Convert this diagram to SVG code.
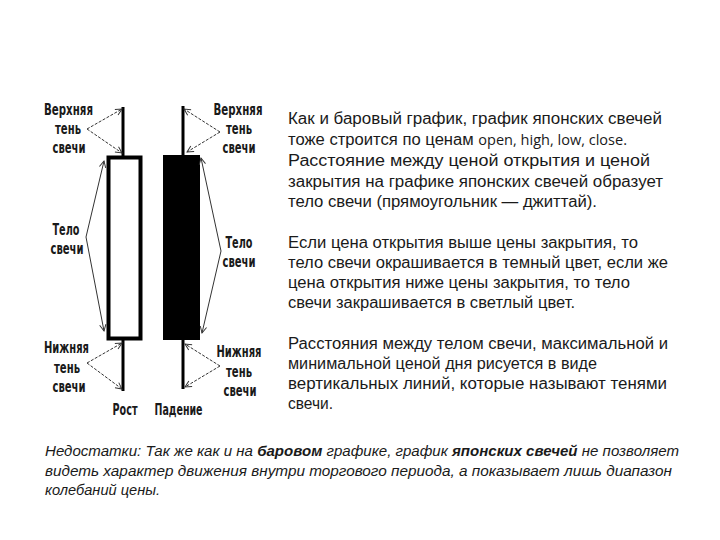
<svg xmlns="http://www.w3.org/2000/svg" width="720" height="540" viewBox="0 0 720 540">
<defs>
<style>
.lbl{font-family:"DejaVu Sans Condensed","DejaVu Sans",sans-serif;font-weight:bold;font-size:15px;fill:#1a1a1a;text-anchor:middle}
.txt{font-family:"Liberation Sans",Arial,sans-serif;font-size:16px;fill:#1a1a1a}
.lat{font-family:"Open Sans","Noto Sans",sans-serif;font-size:14px}
.note{font-family:"Liberation Sans",Arial,sans-serif;font-size:14px;font-style:italic;fill:#1a1a1a}
.arr{fill:none;stroke:#333;stroke-width:1;marker-end:url(#ah)}
.dash{stroke-dasharray:3 1.5}
.shadow{stroke:#000;stroke-width:3;fill:none}
</style>
<marker id="ah" viewBox="0 0 10 10" refX="9" refY="5" markerWidth="8" markerHeight="8" orient="auto" markerUnits="userSpaceOnUse">
<path d="M1,1 L9,5 L1,9" fill="none" stroke="#333" stroke-width="1.2"/>
</marker>
</defs>
<rect width="720" height="540" fill="#fff"/>

<g id="candle-up">
<line class="shadow" x1="123" y1="107" x2="123" y2="158"/>
<line class="shadow" x1="123" y1="338" x2="123" y2="391"/>
<rect x="108.5" y="157.5" width="32" height="181" fill="#fff" stroke="#000" stroke-width="4"/>
</g>

<g id="candle-down">
<line class="shadow" x1="183" y1="106" x2="183" y2="156"/>
<line class="shadow" x1="183" y1="338" x2="183" y2="389"/>
<rect x="163" y="155" width="37" height="185" fill="#000"/>
</g>

<g id="connectors">
<polyline class="arr dash" points="87,129 122,109"/>
<polyline class="arr dash" points="87,129 122,153"/>
<polyline class="arr" points="86,237 104,161"/>
<polyline class="arr" points="86,237 104,331"/>
<polyline class="arr dash" points="87,363 122,343"/>
<polyline class="arr dash" points="87,363 122,389"/>
<polyline class="arr dash" points="220,132 184,109"/>
<polyline class="arr dash" points="220,132 187,152"/>
<polyline class="arr" points="221,251 201,158"/>
<polyline class="arr" points="221,251 202,333"/>
<polyline class="arr dash" points="220,366 185,344"/>
<polyline class="arr dash" points="220,366 185,387"/>
</g>

<g id="labels-left">
<text class="lbl" x="68.5" y="115" textLength="49" lengthAdjust="spacingAndGlyphs">Верхняя</text>
<text class="lbl" x="68" y="134" textLength="26" lengthAdjust="spacingAndGlyphs">тень</text>
<text class="lbl" x="69" y="153" textLength="33" lengthAdjust="spacingAndGlyphs">свечи</text>
<text class="lbl" x="66" y="235" textLength="27" lengthAdjust="spacingAndGlyphs">Тело</text>
<text class="lbl" x="67" y="254" textLength="33" lengthAdjust="spacingAndGlyphs">свечи</text>
<text class="lbl" x="66.5" y="353" textLength="45" lengthAdjust="spacingAndGlyphs">Нижняя</text>
<text class="lbl" x="67" y="373" textLength="26" lengthAdjust="spacingAndGlyphs">тень</text>
<text class="lbl" x="69" y="392" textLength="33" lengthAdjust="spacingAndGlyphs">свечи</text>
<text class="lbl" x="125" y="415" textLength="25" lengthAdjust="spacingAndGlyphs">Рост</text>
</g>

<g id="labels-right">
<text class="lbl" x="238" y="115" textLength="49" lengthAdjust="spacingAndGlyphs">Верхняя</text>
<text class="lbl" x="239" y="134" textLength="26" lengthAdjust="spacingAndGlyphs">тень</text>
<text class="lbl" x="239" y="153" textLength="33" lengthAdjust="spacingAndGlyphs">свечи</text>
<text class="lbl" x="239" y="248" textLength="27" lengthAdjust="spacingAndGlyphs">Тело</text>
<text class="lbl" x="239" y="267" textLength="33" lengthAdjust="spacingAndGlyphs">свечи</text>
<text class="lbl" x="239" y="357" textLength="45" lengthAdjust="spacingAndGlyphs">Нижняя</text>
<text class="lbl" x="239" y="377" textLength="26" lengthAdjust="spacingAndGlyphs">тень</text>
<text class="lbl" x="240" y="396" textLength="33" lengthAdjust="spacingAndGlyphs">свечи</text>
<text class="lbl" x="178.5" y="415" textLength="48" lengthAdjust="spacingAndGlyphs">Падение</text>
</g>

<g id="description">
<text class="txt" x="288" y="124" textLength="374" lengthAdjust="spacingAndGlyphs">Как и баровый график, график японских свечей</text>
<text class="txt" x="288" y="145" textLength="339" lengthAdjust="spacingAndGlyphs">тоже строится по ценам <tspan class="lat">open, high, low, close.</tspan></text>
<text class="txt" x="288" y="166" textLength="362" lengthAdjust="spacingAndGlyphs">Расстояние между ценой открытия и ценой</text>
<text class="txt" x="288" y="187" textLength="375" lengthAdjust="spacingAndGlyphs">закрытия на графике японских свечей образует</text>
<text class="txt" x="288" y="207" textLength="309" lengthAdjust="spacingAndGlyphs">тело свечи (прямоугольник — джиттай).</text>

<text class="txt" x="288" y="248" textLength="350" lengthAdjust="spacingAndGlyphs">Если цена открытия выше цены закрытия, то</text>
<text class="txt" x="288" y="268" textLength="380" lengthAdjust="spacingAndGlyphs">тело свечи окрашивается в темный цвет, если же</text>
<text class="txt" x="288" y="288" textLength="342" lengthAdjust="spacingAndGlyphs">цена открытия ниже цены закрытия, то тело</text>
<text class="txt" x="288" y="308" textLength="287" lengthAdjust="spacingAndGlyphs">свечи закрашивается в светлый цвет.</text>

<text class="txt" x="288" y="349" textLength="380" lengthAdjust="spacingAndGlyphs">Расстояния между телом свечи, максимальной и</text>
<text class="txt" x="288" y="369" textLength="309" lengthAdjust="spacingAndGlyphs">минимальной ценой дня рисуется в виде</text>
<text class="txt" x="288" y="389" textLength="379" lengthAdjust="spacingAndGlyphs">вертикальных линий, которые называют тенями</text>
<text class="txt" x="288" y="409" textLength="45" lengthAdjust="spacingAndGlyphs">свечи.</text>
</g>

<g id="note">
<text class="note" x="45" y="456" textLength="634" lengthAdjust="spacingAndGlyphs">Недостатки: Так же как и на <tspan font-weight="bold">баровом</tspan> графике, график <tspan font-weight="bold">японских свечей</tspan> не позволяет</text>
<text class="note" x="45" y="476" textLength="627" lengthAdjust="spacingAndGlyphs">видеть характер движения внутри торгового периода, а показывает лишь диапазон</text>
<text class="note" x="45" y="495" textLength="115" lengthAdjust="spacingAndGlyphs">колебаний цены.</text>
</g>
</svg>
